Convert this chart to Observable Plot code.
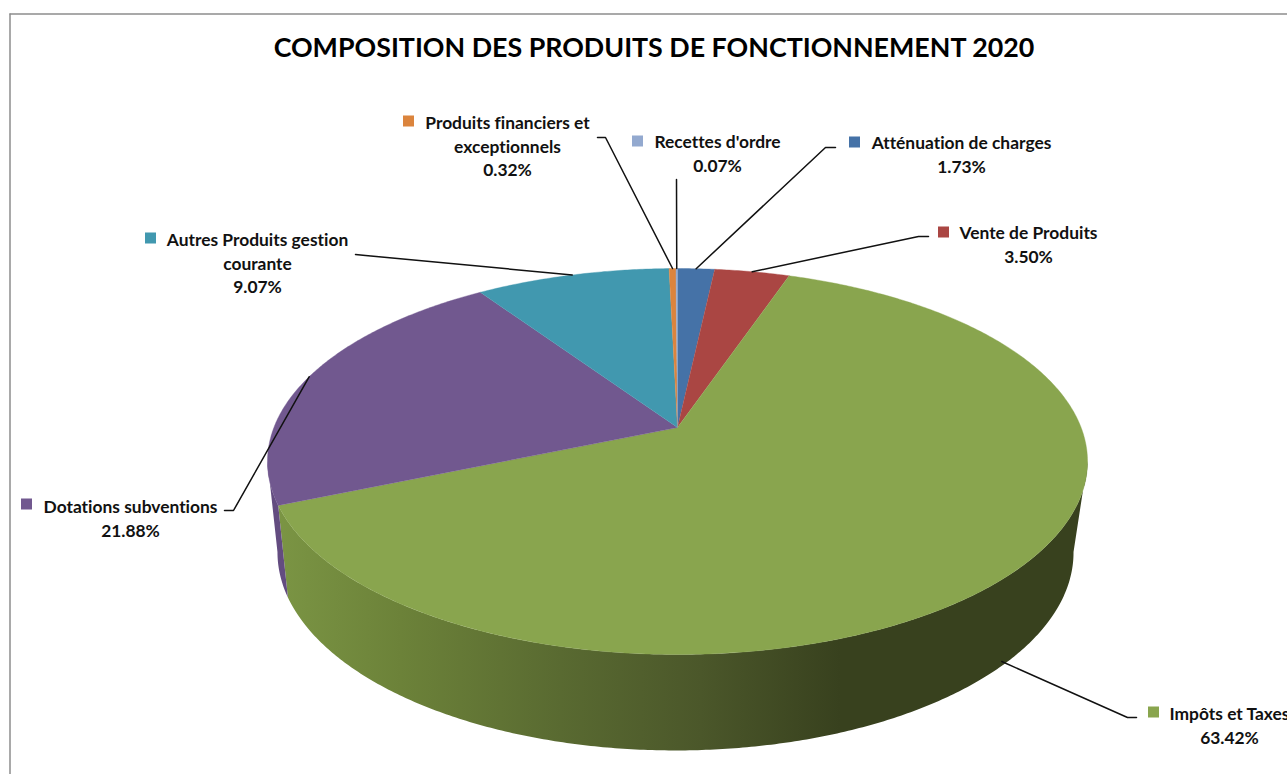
<!DOCTYPE html>
<html lang="fr">
<head>
<meta charset="utf-8">
<title>Composition des produits de fonctionnement 2020</title>
<script src="https://cdn.jsdelivr.net/npm/d3@7"></script>
<script src="https://cdn.jsdelivr.net/npm/@observablehq/plot@0.6"></script>
<style>
  html, body { margin: 0; padding: 0; background: #fff; overflow: hidden; }
  svg { display: block; }
  svg text { font-variant-ligatures: none; }
</style>
</head>
<body>
<div id="chart"></div>
<script>
// Budget shares, clockwise from twelve o'clock
const categories = ["Atténuation de charges", "Vente de Produits", "Impôts et Taxes", "Dotations subventions", "Autres Produits gestion courante", "Produits financiers et exceptionnels", "Recettes d'ordre"];
const shares = [1.73, 3.50, 63.42, 21.88, 9.07, 0.32, 0.07];
const sliceColors = ["#4572A7", "#AA4643", "#89A54E", "#71588F", "#4198AF", "#DB843D", "#93A9CF"];
const labelLines = [
  ["Atténuation de charges"],
  ["Vente de Produits"],
  ["Impôts et Taxes"],
  ["Dotations subventions"],
  ["Autres Produits gestion", "courante"],
  ["Produits financiers et", "exceptionnels"],
  ["Recettes d'ordre"]
];

// Where each label block sits, with its colour key and leader elbow
const labelPlacement = [
  {cx: 961,  top: 143, keyX: 849,  keyY: 143, elbow: [825, 147], stub: [835, 147]},
  {cx: 1028, top: 233, keyX: 938,  keyY: 233, elbow: [918, 236], stub: [928, 236]},
  {cx: 1229, top: 714, keyX: 1148, keyY: 713, elbow: [1127, 717], stub: [1136, 717], wallShare: 0.95},
  {cx: 130,  top: 507, keyX: 21,   keyY: 505, elbow: [233, 510], stub: [224, 510]},
  {cx: 257,  top: 240, keyX: 145,  keyY: 239, elbow: [365, 255], stub: [355, 254]},
  {cx: 507,  top: 123, keyX: 403,  keyY: 122, elbow: [605, 137], stub: [597, 137]},
  {cx: 717,  top: 142, keyX: 632,  keyY: 142, elbow: [676, 179], stub: null}
];

// Perspective discs: the plane tilts away, so each hub sits above its ellipse centre
const k = 0.1762;
const topDisc = {x: 677, y: 427, a: 403.6, b: 187};
const baseDisc = {x: 675, y: 517, a: 391.8, b: 191.9};

// The wall runs between the two points where the rim turns back on itself
const wallFrom = 100, wallTo = 260;

// Side wall shading of the large slice, left to right; other slices keep a flat tone
const wallStopX = [275, 400, 560, 700, 840, 1090];
const wallStopColor = ["#7b9544", "#6c8239", "#596a31", "#4b572a", "#38411e", "#38411e"];
const flatWallColors = {3: "#634c80"};

const rim = (deg, disc = topDisc) => {
  const t = deg * Math.PI / 180;
  const X = Math.sin(t), Y = Math.cos(t), den = 1 + k * Y;
  return [disc.x + disc.a * X / den, disc.y - disc.b * Y / den];
};

const total = d3.sum(shares);
let running = 0;
const slices = shares.map((s, i) => {
  const start = running / total * 360;
  running += s;
  return {i, start, end: running / total * 360, mid: start + s / total * 180};
});

const arc = (from, to, disc) => {
  const n = Math.max(2, Math.ceil(Math.abs(to - from) * 2));
  return d3.range(n + 1).map(j => rim(from + (to - from) * j / n, disc));
};

// Top face of every slice
const faces = slices.flatMap(({i, start, end}) =>
  [[topDisc.x, topDisc.y], ...arc(start, end, topDisc)].map(([x, y]) => ({id: i, x, y, color: sliceColors[i]}))
);

// Wall outline for each slice on the viewer's side of the rim
const walls = slices.flatMap(({i, start, end}) => {
  const a0 = Math.max(start, wallFrom), a1 = Math.min(end, wallTo);
  if (a1 <= a0) return [];
  const color = flatWallColors[i] ?? "url(#wall-shade)";
  return [...arc(a0, a1, topDisc), ...arc(a1, a0, baseDisc)].map(([x, y]) => ({id: i, x, y, color}));
});

// Leader lines run from the slice's mid angle to the elbow beside its label
const leaders = slices.flatMap(({i, mid}) => {
  const place = labelPlacement[i];
  let from = rim(mid);
  if (place.wallShare) {
    const low = rim(mid, baseDisc);
    from = [from[0] + (low[0] - from[0]) * place.wallShare, from[1] + (low[1] - from[1]) * place.wallShare];
  }
  const path = [from, place.elbow];
  if (place.stub) path.push(place.stub);
  return path.map(([x, y]) => ({id: i, x, y}));
});

// One text row per label line, the share always last
const rowGap = 23.5;
const textRows = labelLines.flatMap((lines, i) => {
  const place = labelPlacement[i];
  return [...lines, shares[i].toFixed(2) + "%"].map((text, r) => ({text, x: place.cx, y: place.top + r * rowGap}));
});

const keySize = 11;
const keys = labelPlacement.map((p, i) => ({
  x1: p.keyX, x2: p.keyX + keySize, y1: p.keyY - keySize / 2 - 1, y2: p.keyY + keySize / 2 - 1, color: sliceColors[i]
}));

// Gradient definition placed in the plot, positioned through the x scale
const wallGradient = (index, {x}) => {
  const defs = d3.create("svg:defs");
  const grad = defs.append("linearGradient")
    .attr("id", "wall-shade")
    .attr("gradientUnits", "userSpaceOnUse")
    .attr("x1", x(wallStopX[0])).attr("x2", x(wallStopX[wallStopX.length - 1]))
    .attr("y1", 0).attr("y2", 0);
  const span = wallStopX[wallStopX.length - 1] - wallStopX[0];
  wallStopX.forEach((sx, j) => {
    grad.append("stop").attr("offset", (sx - wallStopX[0]) / span).attr("stop-color", wallStopColor[j]);
  });
  return defs.node();
};

const chart = Plot.plot({
  width: 1287,
  height: 774,
  margin: 0,
  x: {domain: [0, 1287], range: [0, 1287], axis: null},
  y: {domain: [0, 774], range: [0, 774], axis: null},
  color: {type: "identity"},
  style: {background: "#fff", fontFamily: "Lato, 'Open Sans', sans-serif"},
  marks: [
    wallGradient,
    // Chart area frame
    Plot.ruleY([13.5], {x1: 9.5, x2: 1287, stroke: "#8c8c8c", strokeWidth: 1.5}),
    Plot.ruleX([9.5], {y1: 13.5, y2: 774, stroke: "#8c8c8c", strokeWidth: 1.5}),
    Plot.line(walls, {x: "x", y: "y", z: "id", fill: "color", stroke: "none"}),
    Plot.line(faces, {x: "x", y: "y", z: "id", fill: "color", stroke: "color", strokeWidth: 0.4}),
    Plot.line(leaders, {x: "x", y: "y", z: "id", stroke: "#111", strokeWidth: 1.5}),
    Plot.rect(keys, {x1: "x1", x2: "x2", y1: "y1", y2: "y2", fill: "color"}),
    Plot.text(textRows, {x: "x", y: "y", text: "text", fontSize: 17.4, fontWeight: 700, fill: "#111", textAnchor: "middle"}),
    Plot.text(["COMPOSITION DES PRODUITS DE FONCTIONNEMENT 2020"], {x: [653.5], y: [48], fontSize: 26.8, fontWeight: 700, fill: "#000", textAnchor: "middle"})
  ]
});
document.getElementById("chart").append(chart);
</script>
</body>
</html>
